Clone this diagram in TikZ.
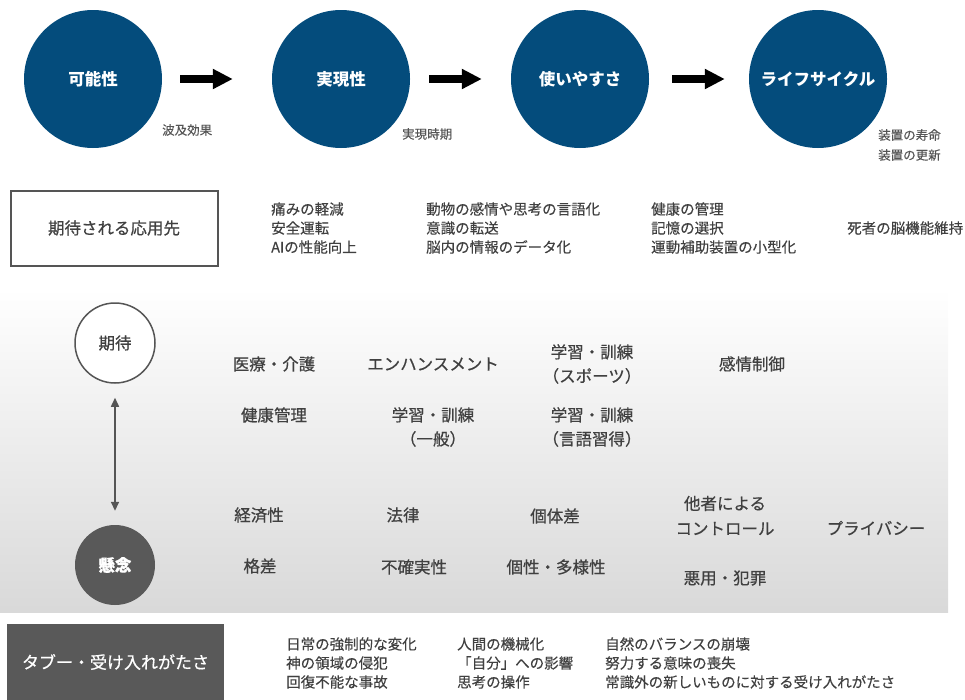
\documentclass[tikz,border=0pt]{standalone}
\usepackage{fontspec}
\setmainfont{Noto Sans CJK JP}
\newfontfamily\medfont{Noto Sans CJK JP}[FakeBold=0.6]
\newfontfamily\lmedfont{Noto Sans CJK JP}[FakeBold=0.3]
\usetikzlibrary{arrows.meta}
\definecolor{myblue}{RGB}{4,76,124}
\definecolor{dgray}{RGB}{89,89,89}
\definecolor{tgray}{RGB}{64,64,64}
\definecolor{lgray}{RGB}{85,85,85}
\tikzset{
  bigc/.style={circle, fill=myblue, minimum size=138pt, inner sep=0pt, text=white, font=\bfseries\fontsize{16.5}{18}\selectfont},
  blockarrow/.style={line width=8pt, -{Triangle[length=20pt,width=19pt]}},
  smalllabel/.style={anchor=west, inner sep=0pt, text=lgray, align=left, font=\lmedfont\fontsize{12.5}{20}\selectfont},
  listtxt/.style={anchor=west, inner sep=0pt, text=tgray, align=left, font=\lmedfont\fontsize{14.5}{19}\selectfont},
  midtxt/.style={inner sep=0pt, text=tgray, align=center, font=\medfont\fontsize{16.5}{24}\selectfont},
  smallc/.style={circle, minimum size=80pt, inner sep=0pt, font=\medfont\fontsize{16.5}{18}\selectfont},
}
\begin{document}
\begin{tikzpicture}[x=1pt,y=-1pt]
\useasboundingbox (0,0) rectangle (965,699);
% top circles
\node[bigc] (c1) at (93,79) {可能性};
\node[bigc] (c2) at (341,79) {実現性};
\node[bigc] (c3) at (580,79) {使いやすさ};
\node[bigc] (c4) at (818,79) {ライフサイクル};
\draw[blockarrow, shorten <=18pt, shorten >=39pt] (c1) -- (c2);
\draw[blockarrow, shorten <=19pt, shorten >=29pt] (c2) -- (c3);
\draw[blockarrow, shorten <=23pt, shorten >=24pt] (c3) -- (c4);
\node[smalllabel] (s1) at (162,130) {波及効果};
\node[smalllabel] (s2) at (402,134) {実現時期};
\node[smalllabel] (s3) at (878,145) {装置の寿命\\装置の更新};
% applications
\node[draw=lgray, line width=2pt, minimum width=207pt, minimum height=75pt, inner sep=0pt, text=tgray, font=\medfont\fontsize{16.5}{18}\selectfont] (app) at (114,228) {期待される応用先};
\node[listtxt] (a1) at (271,228) {痛みの軽減\\安全運転\\AIの性能向上};
\node[listtxt] (a2) at (426,228) {動物の感情や思考の言語化\\意識の転送\\脳内の情報のデータ化};
\node[listtxt] (a3) at (651,228) {健康の管理\\記憶の選択\\運動補助装置の小型化};
\node[listtxt] (a4) at (847,228) {死者の脳機能維持};
% gradient panel
\shade[top color=white, bottom color=gray!30] (0,288) rectangle (948,612);
\node[smallc, draw=lgray, line width=1.5pt, fill=white, text=tgray] (kitai) at (115,343) {期待};
\node[smallc, fill=dgray, text=white] (kenen) at (115,565) {\bfseries 懸念};
\draw[lgray, line width=1.5pt, {Triangle[length=9pt,width=8pt]}-{Triangle[length=9pt,width=8pt]}, shorten <=14pt, shorten >=14pt] (kitai) -- (kenen);
\node[midtxt] (e1) at (274,364) {医療・介護};
\node[midtxt] (e2) at (433,364) {エンハンスメント};
\node[midtxt] (e3) at (592,364) {学習・訓練\\（スポーツ）};
\node[midtxt] (e4) at (752,364) {感情制御};
\node[midtxt] (e5) at (274,415) {健康管理};
\node[midtxt] (e6) at (433,427) {学習・訓練\\（一般）};
\node[midtxt] (e7) at (592,427) {学習・訓練\\（言語習得）};
\node[midtxt] (k1) at (259,515) {経済性};
\node[midtxt] (k2) at (403,515) {法律};
\node[midtxt] (k3) at (555,516) {個体差};
\node[midtxt, font=\medfont\fontsize{16.5}{25}\selectfont] (k4) at (725,515.5) {他者による\\コントロール};
\node[midtxt] (k5) at (876,528) {プライバシー};
\node[midtxt] (k6) at (260,566) {格差};
\node[midtxt] (k7) at (414,567) {不確実性};
\node[midtxt] (k8) at (556,567) {個性・多様性};
\node[midtxt] (k9) at (725,578) {悪用・犯罪};
% taboo
\node[fill=dgray, minimum width=217pt, minimum height=76pt, inner sep=0pt, text=white, font=\medfont\fontsize{17}{18}\selectfont] (taboo) at (115.5,662) {タブー・受け入れがたさ};
\node[listtxt] (t1) at (286,663) {日常の強制的な変化\\神の領域の侵犯\\回復不能な事故};
\node[listtxt] (t2) at (457,663) {人間の機械化\\「自分」への影響\\思考の操作};
\node[listtxt] (t3) at (605,663) {自然のバランスの崩壊\\努力する意味の喪失\\常識外の新しいものに対する受け入れがたさ};
\end{tikzpicture}
\end{document}
